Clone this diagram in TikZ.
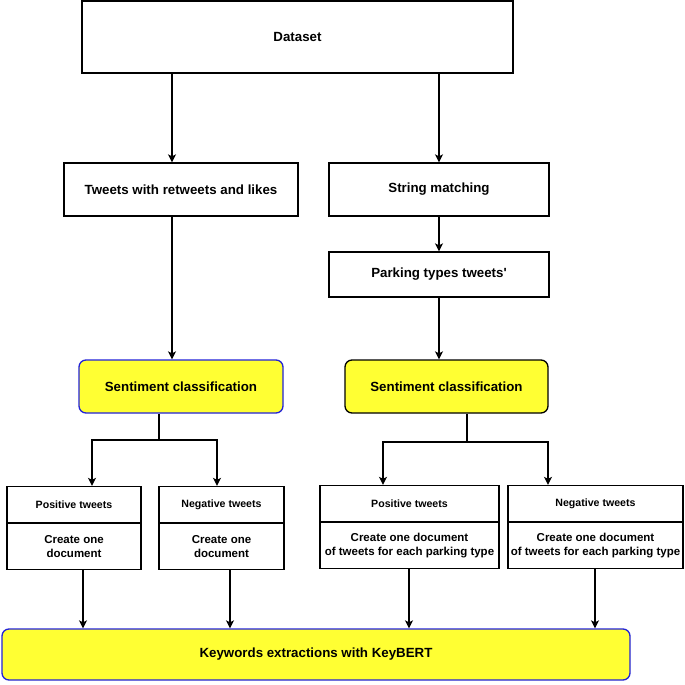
\documentclass[tikz,border=0pt]{standalone}
\usepackage{fontspec}
\setmainfont{Liberation Sans}[Ligatures=TeXOff]
\usepackage{tikz}
\usetikzlibrary{
  arrows.meta,
  positioning,
  calc
}
\definecolor{hlyellow}{HTML}{FFFF33}
\definecolor{hlblue}{HTML}{2222D8}

\begin{document}
\begin{tikzpicture}[
  x=1pt, y=-1pt,
  box/.style={draw, line width=1.3pt, minimum width=#1, align=center, font=\fontsize{13.3}{16}\selectfont\bfseries},
  sent/.style={draw=#1, line width=1.3pt, rounded corners=7pt, fill=hlyellow, align=center, font=\fontsize{13.3}{16}\selectfont\bfseries},
  head/.style={draw, line width=1.3pt, minimum width=#1, minimum height=36pt, font=\fontsize{10.6}{12}\selectfont\bfseries},
  doc/.style={draw, line width=1.3pt, minimum width=#1, minimum height=46pt, inner sep=1pt, align=center, font=\fontsize{11.5}{14}\selectfont\bfseries},
  line/.style={line width=1.3pt},
  arr/.style={line width=1.3pt, -{Stealth[length=8pt, width=8pt, inset=2pt]}}
]
  \useasboundingbox (0,0) rectangle (685,685);

  % Top
  \node[box=431pt, minimum height=72pt] (dataset) at (297.5,37) {Dataset};

  % Layer 1
  \node[box=234pt, minimum height=53pt] (tweets) at (181,189.5) {Tweets with retweets and likes};
  \node[box=220pt, minimum height=53pt] (strmatch) at (439,189.5) {String matching};
  \node[box=220pt, minimum height=45pt] (parking) at (439,274.5) {Parking types tweets'};

  % Sentiment
  \node[sent=hlblue, minimum width=204pt, minimum height=53pt] (sentL) at (181,386.5) {Sentiment classification};
  \node[sent=black, minimum width=203pt, minimum height=53pt] (sentR) at (446.5,386.5) {Sentiment classification};

  % Tweet groups
  \node[head=134pt] (posL) at (74,504.5) {Positive tweets};
  \node[doc=134pt, below=0pt of posL] (posLdoc) {Create one\\document};
  \node[head=125pt] (negL) at (221.5,504.5) {Negative tweets};
  \node[doc=125pt, below=0pt of negL] (negLdoc) {Create one\\document};
  \node[head=179pt] (posR) at (409.5,503.5) {Positive tweets};
  \node[doc=179pt, below=0pt of posR] (posRdoc) {Create one document\\of tweets for each parking type};
  \node[head=175pt] (negR) at (595.5,503.5) {Negative tweets};
  \node[doc=175pt, below=0pt of negR] (negRdoc) {Create one document\\of tweets for each parking type};

  % Bottom
  \node[sent=hlblue, minimum width=628pt, minimum height=51pt] (keybert) at (316,654.5) {Keywords extractions with KeyBERT};

  % Forks
  \coordinate (forkL) at (159,440);
  \coordinate (forkR) at (467,442);

  % Connections
  \draw[arr] ([xshift=-9pt]tweets.north |- dataset.south) -- ([xshift=-9pt]tweets.north);
  \draw[arr] (strmatch.north |- dataset.south) -- (strmatch.north);
  \draw[arr] (strmatch) -- (parking);
  \draw[arr] ([xshift=-9pt]tweets.south) -- ([xshift=-9pt]sentL.north);
  \draw[arr] (parking) -- (parking.south |- sentR.north);

  \draw[line] (forkL |- sentL.south) -- (forkL);
  \draw[arr] (forkL) -| ([xshift=18pt]posL.north);
  \draw[arr] (forkL) -| ([xshift=-4.5pt]negL.north);
  \draw[line] (forkR |- sentR.south) -- (forkR);
  \draw[arr] (forkR) -| ([xshift=-26.5pt]posR.north);
  \draw[arr] (forkR) -| ([xshift=-47.5pt]negR.north);

  \draw[arr] ([xshift=9pt]posLdoc.south) -- ([xshift=9pt]posLdoc.south |- keybert.north);
  \draw[arr] ([xshift=8.5pt]negLdoc.south) -- ([xshift=8.5pt]negLdoc.south |- keybert.north);
  \draw[arr] ([xshift=-0.5pt]posRdoc.south) -- ([xshift=-0.5pt]posRdoc.south |- keybert.north);
  \draw[arr] ([xshift=-0.5pt]negRdoc.south) -- ([xshift=-0.5pt]negRdoc.south |- keybert.north);
\end{tikzpicture}
\end{document}
